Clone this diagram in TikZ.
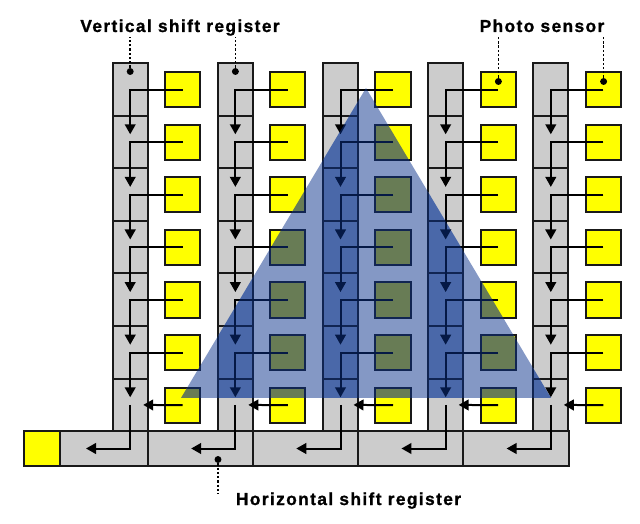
\documentclass[tikz,border=0pt]{standalone}
\usepackage{xcolor}
\usepackage{fontspec}
\setmainfont[LetterSpace=8, FakeBold=1.1]{Liberation Sans Bold}
\usetikzlibrary{arrows.meta, calc}

\definecolor{regfill}{RGB}{204,204,204}
\definecolor{regtint}{RGB}{140,160,200}
\definecolor{sensorfill}{RGB}{255,255,0}
\definecolor{sensortint}{RGB}{200,200,30}
\definecolor{linedark}{RGB}{25,25,25}
\definecolor{overlayblue}{RGB}{10,50,140}

\begin{document}
\begin{tikzpicture}[
  x=0.75pt, y=-0.75pt,
  font=\fontsize{13pt}{15pt}\selectfont,
  reg/.style={draw=linedark, line width=1.5pt, fill=regfill, inner sep=0pt, outer sep=0pt},
  vcell/.style={reg, minimum width=26.4pt, minimum height=39.45pt},
  hcell/.style={reg, minimum height=26.4pt},
  sensor/.style={draw=linedark, line width=1.5pt, fill=sensorfill, inner sep=0pt, outer sep=0pt, minimum size=26.4pt},
  wire/.style={line width=1.5pt, -{Triangle[length=7.5pt, width=8pt]}},
  leader/.style={line width=1.3pt, dash pattern=on 1.8pt off 1.4pt},
  dot/.style={circle, fill=black, inner sep=0pt, minimum size=5.2pt}
]
  \useasboundingbox (0,0) rectangle (640,524);

  % horizontal register
  \node[hcell, minimum width=65.8pt] (h0) at (103.85,448.5) {};
  \foreach \c/\xc in {1/200.3, 2/305.5, 3/410.7, 4/516.1}
    \node[hcell, minimum width=79pt] (h\c) at (\xc,448.5) {};
  \node[sensor] (out) at (42,448.5) {};

  % columns of cells and sensors
  \foreach \c in {0,...,4} {
    \foreach \r in {1,...,7} {
      \node[vcell] (v\c-\r) at ({130.2+105.15*\c},{89.3+52.6*(\r-1)}) {};
      \node[sensor] (s\c-\r) at ({182.7+105.15*\c},{89.6+52.6*(\r-1)}) {};
      \coordinate (t\c-\r) at ($(v\c-\r.center)+(0,-7.6)$);
    }
    \coordinate (b\c) at ({86+105.15*\c},448.5);
    \coordinate (e\c) at ($(v\c-7.center)+(13,0)$);
  }

  % tinted parts under the light spot
  \begin{scope}
    \clip (366,88) -- (551,398) -- (181,398) -- cycle;
    \foreach \c in {0,...,4} {
      \foreach \r in {1,...,7} {
        \node[vcell, fill=regtint] (vt\c-\r) at (v\c-\r.center) {};
        \node[sensor, fill=sensortint] (st\c-\r) at (s\c-\r.center) {};
      }
    }
  \end{scope}

  % transfer paths
  \foreach \c in {0,...,4} {
    \foreach \r/\n in {1/2,2/3,3/4,4/5,5/6,6/7}
      \draw[wire] (s\c-\r.center) -| (t\c-\n);
    \draw[wire] (s\c-7.center) -- (e\c);
    \draw[wire] (v\c-7.center) |- (b\c);
  }

  % labels
  \node[anchor=base] (vlabel) at (180,32) {Vertical shift register};
  \node[anchor=base] (plabel) at (542,32) {Photo sensor};
  \node[anchor=base] (hlabel) at (348.5,505) {Horizontal shift register};

  \node[dot] (d1) at (130.2,71.5) {};
  \node[dot] (d2) at (235.4,71.5) {};
  \node[dot] (d3) at (498.4,81.5) {};
  \node[dot] (d4) at (603.6,81.5) {};
  \node[dot] (d5) at (218,459.5) {};
  \coordinate (l1) at (130.2,37);
  \coordinate (l2) at (235.4,37);
  \coordinate (l3) at (498.4,37);
  \coordinate (l4) at (603.6,37);
  \coordinate (l5) at (218,494);
  \foreach \i in {1,...,5}
    \draw[leader] (d\i) -- (l\i);

  % light spot
  \fill[overlayblue, opacity=0.5] (366,88) -- (551,398) -- (181,398) -- cycle;
\end{tikzpicture}
\end{document}
